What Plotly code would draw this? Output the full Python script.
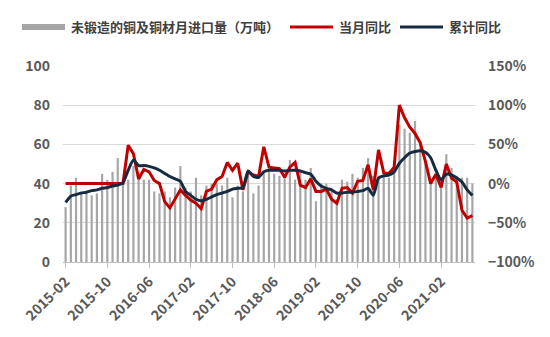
import plotly.graph_objects as go

# Monthly categories, 2015-02 through 2021-08
start_year, start_month, n_months = 2015, 2, 79
months = [f"{start_year + (start_month - 1 + k) // 12}-{(start_month - 1 + k) % 12 + 1:02d}"
          for k in range(n_months)]
tick_labels = months[::8]

# 未锻造的铜及铜材月进口量（万吨）
imports = [28, 39, 43, 35, 35, 34, 35, 45, 42, 46, 53, 42,
           42, 49, 43, 42, 42, 36, 35, 36, 33, 38, 49, 38,
           36, 43, 34, 39, 40, 40, 39, 43, 33, 39, 36, 44,
           35, 39, 46, 46, 45, 44, 43, 52, 42, 47, 42, 48,
           31, 40, 40, 36, 32, 42, 41, 45, 43, 48, 53, 44,
           44, 44, 43, 47, 70, 68, 66, 72, 62, 52, 40, 45,
           42, 55, 48, 44, 43, 43, 40]

# 当月同比 (%)
yoy_month = [0, 0, 0, 0, 0, 0, 0, 0, 0, 0, 0, 0,
             49, 38, 6, 18, 15, 4, 0, -23, -31, -19, -8, -15,
             -21, -25, -32, -10, -7, 5, 9, 27, 17, 26, -8, 15,
             11, 9, 47, 21, 20, 19, 8, 21, 27, -2, -5, 6,
             -10, -10, -7, -20, -25, -6, -5, -12, 3, 4, 24, -8,
             43, 14, 13, 21, 100, 84, 72, 64, 52, 28, 0, 12,
             -5, 25, 7, 2, -34, -44, -41]

# 累计同比 (%)
yoy_cum = [-24, -16, -14, -12, -11, -9, -8, -6, -5, -3, -2, 1,
           17, 30, 23, 23, 22, 20, 17, 13, 9, 6, 3, -10,
           -15, -20, -22, -20, -17, -14, -12, -10, -7, -6, -5, 16,
           9, 8, 15, 17, 17, 17, 16, 17, 17, 16, 14, 12,
           3, -3, -6, -8, -12, -12, -11, -11, -10, -9, -6, -15,
           7, 10, 11, 15, 26, 33, 39, 41, 42, 40, 33, 17,
           5, 12, 11, 7, 2, -8, -15]

name_bar = "未锻造的铜及铜材月进口量（万吨）"
name_month = "当月同比"
name_cum = "累计同比"

GRAY = "#A6A6A6"
RED = "#C00000"
NAVY = "#172B40"
FONT = "Noto Sans CJK SC"
TICK_COLOR = "#595959"

fig = go.Figure()
fig.add_trace(go.Bar(x=months, y=imports, name=name_bar, marker_color=GRAY,
                     marker_line_width=0, yaxis="y"))
fig.add_trace(go.Scatter(x=months, y=yoy_month, name=name_month, mode="lines",
                         line=dict(color=RED, width=3), yaxis="y2"))
fig.add_trace(go.Scatter(x=months, y=yoy_cum, name=name_cum, mode="lines",
                         line=dict(color=NAVY, width=3, shape="spline", smoothing=0.6),
                         yaxis="y2"))

# plot area in pixels
W, H = 550, 337
L, R, T, B = 63, 75, 66, 75
pw = W - L - R
ph = H - T - B


def px_x(x):
    return (x - L) / pw


def px_y(y):
    return (H - B - y) / ph


# legend drawn as swatches + text above the plot
legend_y = 27
legend_items = [
    (22, 65, GRAY, 6, name_bar),
    (290, 333, RED, 3, name_month),
    (400, 443, NAVY, 3, name_cum),
]
shapes = []
annotations = []
for x0, x1, color, width, label in legend_items:
    shapes.append(dict(type="line", xref="paper", yref="paper",
                       x0=px_x(x0), x1=px_x(x1), y0=px_y(legend_y), y1=px_y(legend_y),
                       line=dict(color=color, width=width)))
    annotations.append(dict(xref="paper", yref="paper", x=px_x(x1 + 4), y=px_y(legend_y),
                            xanchor="left", yanchor="middle", showarrow=False, text=label,
                            font=dict(family=FONT, size=13, color="#404040", weight="bold")))

fig.update_layout(
    width=W, height=H,
    margin=dict(l=L, r=R, t=T, b=B, pad=0),
    paper_bgcolor="white", plot_bgcolor="white",
    showlegend=False,
    bargap=0.58,
    shapes=shapes,
    annotations=annotations,
    xaxis=dict(type="category", tickvals=tick_labels, ticktext=tick_labels,
               tickangle=-45, showgrid=False, showline=True, linecolor="#BFBFBF",
               linewidth=1, ticks="outside", ticklen=5, tickcolor="#BFBFBF",
               tickfont=dict(family=FONT, size=14, color=TICK_COLOR, weight="bold"),
               range=[-0.5, n_months - 0.5]),
    yaxis=dict(range=[0, 100], dtick=20, showgrid=True, gridcolor="#D9D9D9",
               gridwidth=1, zeroline=False, showline=False,
               ticklabelstandoff=12,
               tickfont=dict(family=FONT, size=14, color=TICK_COLOR, weight="bold")),
    yaxis2=dict(range=[-100, 150], dtick=50, ticksuffix="%", overlaying="y",
                side="right", showgrid=False, zeroline=False, showline=False,
                ticklabelstandoff=12,
                tickfont=dict(family=FONT, size=14, color=TICK_COLOR, weight="bold")),
)

fig.write_html("out.html")
